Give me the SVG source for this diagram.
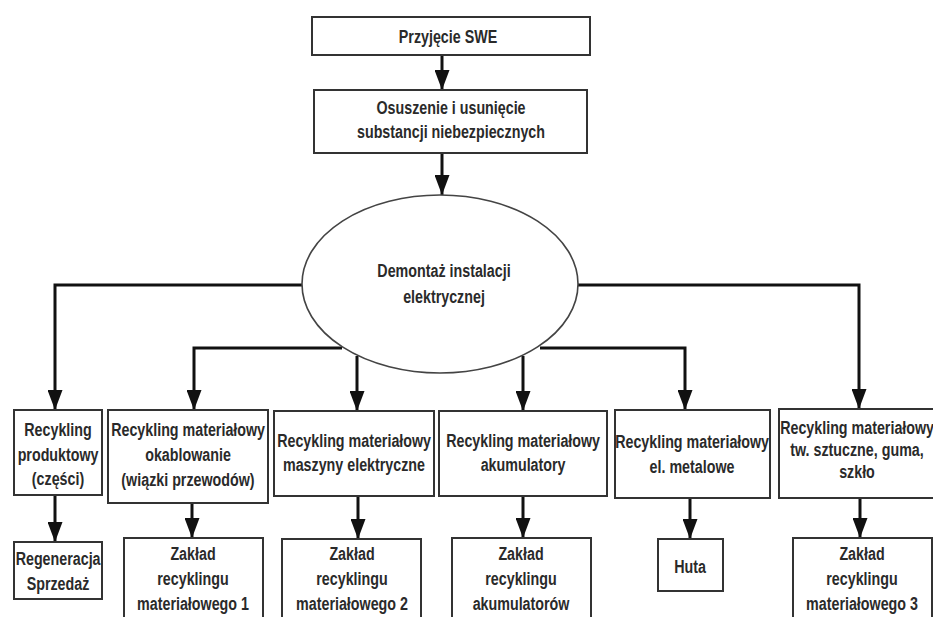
<svg xmlns="http://www.w3.org/2000/svg" width="933" height="617" viewBox="0 0 933 617">
<style>
.box{fill:#fff;stroke:#333;stroke-width:2}
.el{fill:#fff;stroke:#444;stroke-width:1.6}
.t{font-family:"Liberation Sans",Arial,sans-serif;font-weight:bold;font-size:18.5px;fill:#2a2a2a;text-anchor:middle;transform-box:fill-box;transform-origin:center;transform:scaleX(0.772)}
.c{fill:none;stroke:#111;stroke-width:3}
</style>
<defs>
<marker id="ah" viewBox="0 0 20 15" refX="20" refY="7.5" markerWidth="20" markerHeight="15" markerUnits="userSpaceOnUse" orient="auto">
<path d="M0,0 L20,7.5 L0,15 z" fill="#111"/>
</marker>
</defs>
<rect width="933" height="617" fill="#fff"/>
<g id="connectors">
<path class="c" d="M442,55 V90" marker-end="url(#ah)"/>
<path class="c" d="M442,153 V195" marker-end="url(#ah)"/>
<path class="c" d="M302,285 H55 V410" marker-end="url(#ah)"/>
<path class="c" d="M342,348 H194 V410" marker-end="url(#ah)"/>
<path class="c" d="M357,356 V411" marker-end="url(#ah)"/>
<path class="c" d="M523,356 V411" marker-end="url(#ah)"/>
<path class="c" d="M540,348 H685 V410" marker-end="url(#ah)"/>
<path class="c" d="M578,285 H859 V409" marker-end="url(#ah)"/>
<path class="c" d="M55,495 V542" marker-end="url(#ah)"/>
<path class="c" d="M192,503 V538" marker-end="url(#ah)"/>
<path class="c" d="M358,496 V539" marker-end="url(#ah)"/>
<path class="c" d="M523,496 V538" marker-end="url(#ah)"/>
<path class="c" d="M690,498 V539" marker-end="url(#ah)"/>
<path class="c" d="M860,498 V538" marker-end="url(#ah)"/>
</g>
<g id="n-przyjecie">
<rect class="box" x="312" y="17" width="278" height="38"/>
<text class="t" x="448" y="43">Przyjęcie SWE</text>
</g>
<g id="n-osuszenie">
<rect class="box" x="314" y="90" width="273" height="63"/>
<text class="t" x="451" y="114">Osuszenie i usunięcie</text>
<text class="t" x="451" y="138">substancji niebezpiecznych</text>
</g>
<g id="n-demontaz">
<ellipse class="el" cx="440" cy="284" rx="138" ry="89"/>
<text class="t" x="444" y="277">Demontaż instalacji</text>
<text class="t" x="444" y="303">elektrycznej</text>
</g>
<g id="n-produktowy">
<rect class="box" x="14" y="410" width="88" height="85"/>
<text class="t" x="58" y="436">Recykling</text>
<text class="t" x="58" y="461">produktowy</text>
<text class="t" x="58" y="485">(części)</text>
</g>
<g id="n-okablowanie">
<rect class="box" x="108" y="410" width="160" height="93"/>
<text class="t" x="188" y="436">Recykling materiałowy</text>
<text class="t" x="188" y="461">okablowanie</text>
<text class="t" x="188" y="486">(wiązki  przewodów)</text>
</g>
<g id="n-maszyny">
<rect class="box" x="274" y="411" width="160" height="85"/>
<text class="t" x="354" y="447">Recykling materiałowy</text>
<text class="t" x="354" y="471">maszyny elektryczne</text>
</g>
<g id="n-akumulatory">
<rect class="box" x="439" y="411" width="168" height="85"/>
<text class="t" x="523" y="447">Recykling materiałowy</text>
<text class="t" x="523" y="471">akumulatory</text>
</g>
<g id="n-metalowe">
<rect class="box" x="615" y="410" width="155" height="88"/>
<text class="t" x="692" y="448">Recykling materiałowy</text>
<text class="t" x="692" y="473">el. metalowe</text>
</g>
<g id="n-tworzywa">
<rect class="box" x="779" y="409" width="165" height="89"/>
<text class="t" x="857" y="434">Recykling materiałowy</text>
<text class="t" x="857" y="456">tw. sztuczne, guma,</text>
<text class="t" x="857" y="478">szkło</text>
</g>
<g id="n-regeneracja">
<rect class="box" x="14" y="542" width="88" height="57"/>
<text class="t" x="58" y="565">Regeneracja</text>
<text class="t" x="58" y="590">Sprzedaż</text>
</g>
<g id="n-zaklad1">
<rect class="box" x="124" y="538" width="139" height="90"/>
<text class="t" x="193" y="560">Zakład</text>
<text class="t" x="193" y="585">recyklingu</text>
<text class="t" x="193" y="610">materiałowego 1</text>
</g>
<g id="n-zaklad2">
<rect class="box" x="282" y="539" width="139" height="90"/>
<text class="t" x="352" y="560">Zakład</text>
<text class="t" x="352" y="585">recyklingu</text>
<text class="t" x="352" y="610">materiałowego 2</text>
</g>
<g id="n-zaklad-akum">
<rect class="box" x="452" y="538" width="139" height="90"/>
<text class="t" x="521" y="560">Zakład</text>
<text class="t" x="521" y="585">recyklingu</text>
<text class="t" x="521" y="610">akumulatorów</text>
</g>
<g id="n-huta">
<rect class="box" x="658" y="539" width="65" height="52"/>
<text class="t" x="690" y="573">Huta</text>
</g>
<g id="n-zaklad3">
<rect class="box" x="793" y="538" width="139" height="90"/>
<text class="t" x="862" y="560">Zakład</text>
<text class="t" x="862" y="585">recyklingu</text>
<text class="t" x="862" y="610">materiałowego 3</text>
</g>
</svg>
